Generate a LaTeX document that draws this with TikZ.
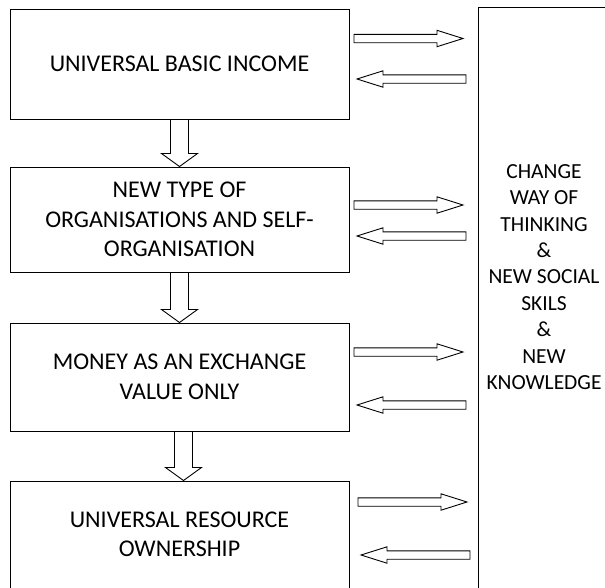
\documentclass[tikz,border=0pt]{standalone}
\usepackage{fontspec}
\setmainfont{Carlito}
\usetikzlibrary{positioning}

\tikzset{
  box/.style={draw, line width=1pt, minimum width=339pt, align=center, inner sep=0pt,
    font=\fontsize{24}{29.5}\selectfont},
  panel/.style={draw, line width=1pt, minimum width=134pt, minimum height=600pt},
  paneltext/.style={align=center, font=\fontsize{21.5}{26.4}\selectfont},
  blockline/.style={draw, line width=0.9pt, fill=white},
}

% hollow arrow pointing down from #1, length #2
\newcommand\downblock[2]{%
  \begin{scope}[shift={(#1)}]
    \draw[blockline] (-9,0) -- (-9,-#2+13) -- (-18,-#2+13) -- (0,-#2) -- (18,-#2+13) -- (9,-#2+13) -- (9,0) -- cycle;
  \end{scope}}
% hollow side arrow from #1, turned by #2, length #3
\newcommand\sideblock[3]{%
  \begin{scope}[shift={(#1)},rotate=#2]
    \draw[blockline] (0,-4.2) -- (#3-26,-4.2) -- (#3-26,-8.2) -- (#3,0) -- (#3-26,8.2) -- (#3-26,4.2) -- (0,4.2) -- cycle;
  \end{scope}}

\begin{document}
\begin{tikzpicture}[x=1pt,y=1pt]
  \useasboundingbox (0,0) rectangle (605,-587);
  \clip (0,0) rectangle (605,-587);

  % left column
  \node[box, minimum height=110pt] (ubi) at (179.5,-64) {UNIVERSAL BASIC INCOME};
  \node[box, minimum height=105pt, below=47pt of ubi] (orgs) {NEW TYPE OF\\ORGANISATIONS AND SELF-\\ORGANISATION};
  \node[box, minimum height=108pt, below=50pt of orgs] (money) {MONEY AS AN EXCHANGE\\VALUE ONLY};
  \node[box, minimum height=107pt, below=49pt of money] (owner) {UNIVERSAL RESOURCE\\OWNERSHIP};

  \downblock{ubi.south}{47}
  \downblock{orgs.south}{50}
  \downblock{[xshift=4pt]money.south}{49}

  % right column
  \node[panel] (skills) at (545,-307.5) {};
  \node[paneltext] (skilltext) at (544,-277) {CHANGE\\WAY OF\\THINKING\\\&\\NEW SOCIAL\\SKILS\\\&\\NEW\\KNOWLEDGE};

  % exchange arrows
  \foreach \x/\yr/\yl in {354/38.5/79, 354/205/236, 354/352/405, 358/502/555} {
    \sideblock{\x,-\yr}{0}{109}
    \sideblock{\x+112,-\yl}{180}{109}
  }
\end{tikzpicture}
\end{document}
